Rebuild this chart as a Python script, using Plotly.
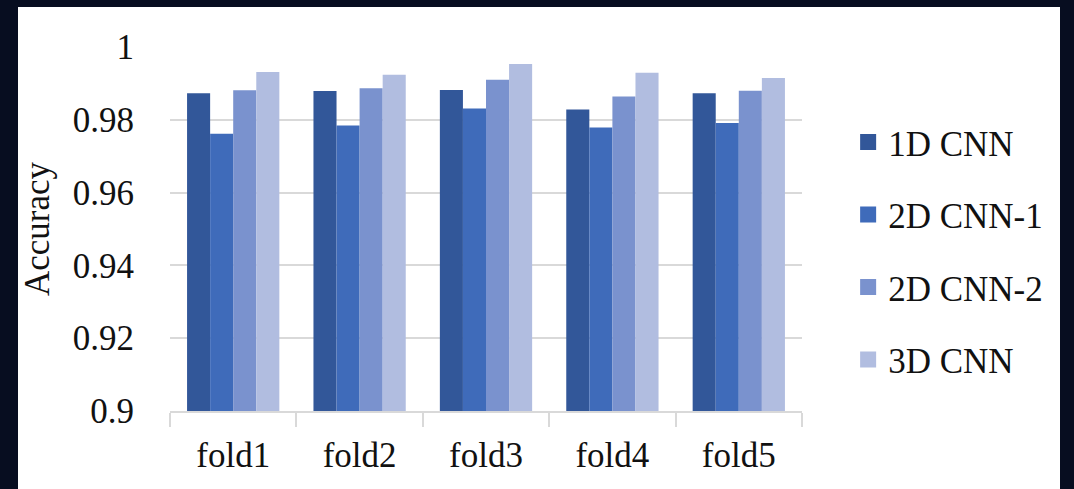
import plotly.graph_objects as go

# Cross-validation accuracy per fold
folds = ["fold1", "fold2", "fold3", "fold4", "fold5"]
acc_1d_cnn = [0.9873, 0.9879, 0.9882, 0.9828, 0.9873]
acc_2d_cnn_1 = [0.9762, 0.9784, 0.9831, 0.9779, 0.9791]
acc_2d_cnn_2 = [0.9881, 0.9887, 0.9910, 0.9864, 0.9880]
acc_3d_cnn = [0.9931, 0.9924, 0.9953, 0.9929, 0.9915]

series = [
    ("1D CNN", acc_1d_cnn, "#325799"),
    ("2D CNN-1", acc_2d_cnn_1, "#3F6BBA"),
    ("2D CNN-2", acc_2d_cnn_2, "#7A92CE"),
    ("3D CNN", acc_3d_cnn, "#B1BDE0"),
]

FONT = "Liberation Serif, Times New Roman, serif"
TEXT = "#111111"
GRID = "#D9D9D9"

fig = go.Figure()
for i, (name, vals, color) in enumerate(series):
    fig.add_trace(go.Bar(
        x=folds, y=vals, name=name, legendgroup=f"g{i}", showlegend=False,
        marker=dict(color=color, line=dict(width=0)),
    ))
    # legend key: larger square swatch tied to the bar trace's group
    fig.add_trace(go.Scatter(
        x=[None], y=[None], mode="markers", name=name, legendgroup=f"g{i}",
        marker=dict(symbol="square", size=21, color=color, line=dict(width=0)),
        showlegend=True, hoverinfo="skip",
    ))

fig.update_layout(
    width=1074, height=489,
    margin=dict(l=170, r=272, t=47, b=78),
    paper_bgcolor="#070D20",
    plot_bgcolor="white",
    barmode="group", bargap=0.27, bargroupgap=0,
    font=dict(family=FONT, size=35, color=TEXT),
    showlegend=True,
    legend=dict(
        x=1.073, xanchor="left", y=0.8195, yanchor="top",
        traceorder="grouped", tracegroupgap=24, itemsizing="trace",
        font=dict(family=FONT, size=35, color=TEXT),
        bgcolor="rgba(0,0,0,0)", borderwidth=0,
    ),
    shapes=[dict(
        type="rect", xref="paper", yref="paper", layer="below",
        x0=-152 / 632, x1=890 / 632, y0=-78 / 364, y1=404 / 364,
        fillcolor="white", line=dict(width=0),
    )],
)

fig.update_yaxes(
    range=[0.9, 1.0], dtick=0.02, tickformat="~g",
    showgrid=True, gridcolor=GRID, gridwidth=1.5,
    zeroline=False, showline=False, ticks="",
    ticklabelstandoff=35,
    tickfont=dict(family=FONT, size=35, color=TEXT),
    title=dict(text="Accuracy", standoff=12,
               font=dict(family=FONT, size=35, color=TEXT)),
)
fig.update_xaxes(
    showline=True, linecolor=GRID, linewidth=1.5,
    ticks="outside", ticklen=14, tickcolor=GRID, tickwidth=1.5,
    tickson="boundaries", showgrid=False, ticklabelstandoff=12,
    tickfont=dict(family=FONT, size=35, color=TEXT),
)

fig.write_html("out.html")
